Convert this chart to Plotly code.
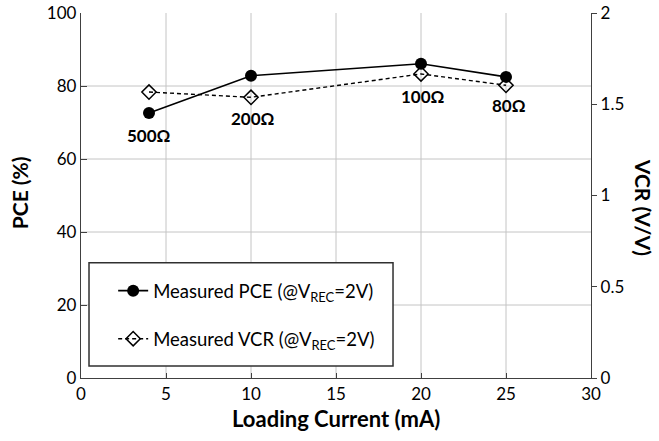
import plotly.graph_objects as go

# Data
load_current = [4, 10, 20, 25]
pce = [72.6, 82.8, 86.1, 82.5]
vcr = [1.567, 1.538, 1.666, 1.604]
load_labels = ["500Ω", "200Ω", "100Ω", "80Ω"]
x_ticks = [0, 5, 10, 15, 20, 25, 30]
y_ticks = [0, 20, 40, 60, 80, 100]
y2_ticks = [0, 0.5, 1, 1.5, 2]

FONT = "Lato"
AXC = "#404040"
GRIDC = "#c4c4c4"

fig = go.Figure()
fig.add_trace(go.Scatter(
    x=load_current, y=pce, mode="lines+markers",
    name="Measured PCE (@V<sub>REC</sub>=2V)",
    line=dict(color="black", width=1.6),
    marker=dict(symbol="circle", size=12, color="black"),
    legendgroup="a",
))
fig.add_trace(go.Scatter(
    x=load_current, y=vcr, mode="lines+markers", yaxis="y2",
    name="Measured VCR (@V<sub>REC</sub>=2V)",
    line=dict(color="black", width=1.4, dash="4px,3px"),
    marker=dict(symbol="diamond-open", size=11, color="black", line=dict(width=1.5)),
    legendgroup="b",
))

# interior gridlines (none on the frame edges)
for v in y_ticks[1:-1]:
    fig.add_shape(type="line", xref="paper", yref="y", x0=0, x1=1, y0=v, y1=v,
                  line=dict(color=GRIDC, width=1), layer="below")
for v in x_ticks[1:-1]:
    fig.add_shape(type="line", xref="x", yref="paper", x0=v, x1=v, y0=0, y1=1,
                  line=dict(color=GRIDC, width=1), layer="below")
# legend frame
fig.add_shape(type="rect", xref="paper", yref="paper", x0=0.0157, x1=0.6118, y0=0.033, y1=0.3155,
              line=dict(color="#303030", width=1.5), fillcolor="white", layer="below")

label_shift = [(0, -22), (2, -43), (2, -33), (3, -29)]
for xv, yv, t, (dx, dy) in zip(load_current, pce, load_labels, label_shift):
    fig.add_annotation(x=xv, y=yv, xref="x", yref="y", text="<b>%s</b>" % t,
                       showarrow=False, xshift=dx, yshift=dy,
                       font=dict(size=17, color="black", family=FONT))

fig.add_annotation(x=-0.1206, y=0.5075, xref="paper", yref="paper", text="<b>PCE (%)</b>",
                   showarrow=False, textangle=-90, xanchor="center", yanchor="middle",
                   font=dict(size=21, color="black", family=FONT))
fig.add_annotation(x=1.102, y=0.469, xref="paper", yref="paper", text="<b>VCR (V/V)</b>",
                   showarrow=False, textangle=90, xanchor="center", yanchor="middle",
                   font=dict(size=21, color="black", family=FONT))
fig.add_annotation(x=0.5, y=-0.11, xref="paper", yref="paper", text="<b>Loading Current (mA)</b>",
                   showarrow=False, xanchor="center", yanchor="middle",
                   font=dict(size=22, color="black", family=FONT))

fig.update_layout(
    width=659, height=441,
    margin=dict(l=81, r=68, t=13, b=63, autoexpand=False),
    plot_bgcolor="white", paper_bgcolor="white",
    font=dict(family=FONT, size=17, color="black"),
    xaxis=dict(range=[0, 30], tickvals=x_ticks, showline=True, linecolor=AXC, linewidth=1.3,
               showgrid=False, zeroline=False, automargin=False,
               ticks="inside", ticklen=5, tickcolor=AXC, tickfont=dict(size=17)),
    yaxis=dict(range=[0, 100], tickvals=y_ticks, showline=True, linecolor=AXC, linewidth=1.3,
               showgrid=False, zeroline=False, automargin=False,
               ticks="inside", ticklen=6, tickcolor=AXC, tickfont=dict(size=17)),
    yaxis2=dict(range=[0, 2], tickvals=y2_ticks, overlaying="y", side="right",
                showline=True, linecolor=AXC, linewidth=1.3, showgrid=False, zeroline=False,
                automargin=False,
                ticks="outside", ticklen=5, tickcolor=AXC, tickfont=dict(size=17)),
    legend=dict(x=0.016, y=0.29, xanchor="left", yanchor="top",
                borderwidth=0, bgcolor="rgba(0,0,0,0)",
                font=dict(size=18.5, family=FONT), traceorder="grouped", tracegroupgap=21,
                itemwidth=30, indentation=24),
    showlegend=True,
)

fig.write_html("out.html", config={"displayModeBar": False},
               post_script="document.body.style.margin='0';document.body.style.overflow='hidden';")
